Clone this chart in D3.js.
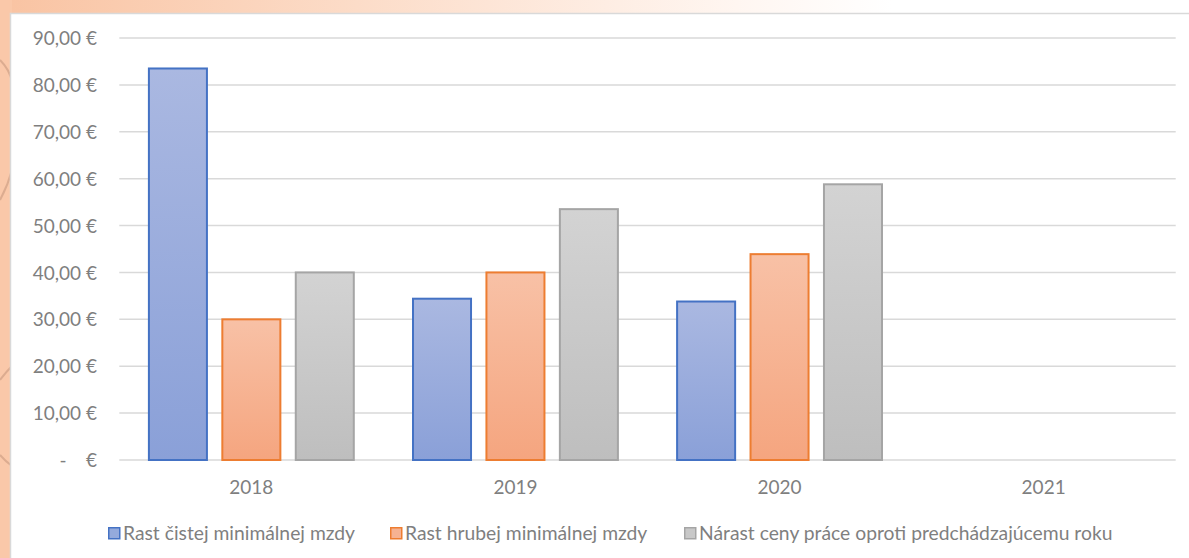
<!DOCTYPE html>
<html>
<head>
<meta charset="utf-8">
<script src="https://cdn.jsdelivr.net/npm/d3@7/dist/d3.min.js"></script>
<style>
  html, body { margin: 0; padding: 0; background: #fff; }
  svg { display: block; font-family: Lato, "Open Sans", sans-serif; }
</style>
</head>
<body>
<svg id="chart" width="1189" height="558"></svg>
<script>
// Categories and series (EUR)
const years = ["2018", "2019", "2020", "2021"];
const seriesNames = [
  "Rast čistej minimálnej mzdy",
  "Rast hrubej minimálnej mzdy",
  "Nárast ceny práce oproti predchádzajúcemu roku"
];
const netGrowth   = [83.5, 34.4, 33.8, null];
const grossGrowth = [30.0, 40.0, 43.9, null];
const laborCost   = [40.0, 53.5, 58.8, null];
const yTicks = [0, 10, 20, 30, 40, 50, 60, 70, 80, 90];

const seriesValues = [netGrowth, grossGrowth, laborCost];
const palette = [
  { stroke: "#4472C4", top: "#AAB8E1", bottom: "#8AA0D8", key: "#94AADC" },
  { stroke: "#ED7D31", top: "#F8C1A6", bottom: "#F5A57F", key: "#F6B292" },
  { stroke: "#A5A5A5", top: "#D3D3D3", bottom: "#BEBEBE", key: "#C8C8C8" }
];

const svg = d3.select("#chart");
const W = 1189, H = 558;
const defs = svg.append("defs");

// Decorative slide background behind the chart frame
const bgGrad = defs.append("linearGradient").attr("id", "bgTop")
  .attr("x1", 0).attr("x2", 1).attr("y1", 0).attr("y2", 0);
bgGrad.append("stop").attr("offset", 0).attr("stop-color", "#F9C3A2");
bgGrad.append("stop").attr("offset", 0.3).attr("stop-color", "#FCDCC8");
bgGrad.append("stop").attr("offset", 0.62).attr("stop-color", "#FFF6F1");
bgGrad.append("stop").attr("offset", 0.75).attr("stop-color", "#FFFFFF");
svg.append("rect").attr("width", W).attr("height", H).attr("fill", "url(#bgTop)");
svg.append("rect").attr("x", 0).attr("y", 0).attr("width", 12).attr("height", H).attr("fill", "#FAC8A9");

// faint ornamental strokes on the left margin
const orn = svg.append("g").attr("fill", "none").attr("stroke", "#B98A70").attr("stroke-opacity", 0.45).attr("stroke-width", 2);
orn.append("path").attr("d", "M0,60 Q10,70 12,82");
orn.append("path").attr("d", "M0,200 Q8,185 12,170");
orn.append("path").attr("d", "M0,380 Q6,372 12,366");
orn.append("path").attr("d", "M0,455 Q6,462 12,466");

// Chart frame
svg.append("rect").attr("x", 10.5).attr("y", 13.5).attr("width", W).attr("height", H)
  .attr("fill", "#FFFFFF").attr("stroke", "#D9D9D9").attr("stroke-width", 1.5);

// Scales
const x = d3.scaleBand().domain(years).range([119.3, 1175.7]).paddingInner(0).paddingOuter(0);
const groupPad = 28.6;
const xInner = d3.scaleBand().domain(d3.range(seriesNames.length))
  .range([groupPad, x.bandwidth() - groupPad]).paddingInner(13.4 / 73.4);
const y = d3.scaleLinear().domain([0, 90]).range([460, 38]);

const textColor = "#7F7F7F";

// Gridlines
svg.append("g").selectAll("line").data(yTicks).join("line")
  .attr("x1", x.range()[0]).attr("x2", x.range()[1])
  .attr("y1", d => y(d)).attr("y2", d => y(d))
  .attr("stroke", "#D9D9D9").attr("stroke-width", 1.5);

// Y axis labels (accounting style)
const fmt = d3.formatLocale({ decimal: ",", thousands: "\u00a0", grouping: [3], currency: ["", "\u00a0€"] }).format("$,.2f");
const yAxis = d3.axisLeft(y).tickValues(yTicks).tickSize(0).tickPadding(0)
  .tickFormat(d => d === 0 ? "-\u00a0\u00a0\u00a0\u00a0€" : fmt(d));
const gy = svg.append("g").attr("transform", "translate(97,0)").call(yAxis);
gy.select(".domain").remove();
gy.selectAll("text").attr("fill", textColor).attr("font-size", 19).attr("font-family", "Lato").attr("dy", "0.35em").attr("x", 0);

// X axis labels
const xAxis = d3.axisBottom(x).tickSize(0).tickPadding(0);
const gx = svg.append("g").attr("transform", "translate(0,460)").call(xAxis);
gx.select(".domain").remove();
gx.selectAll("text").attr("fill", textColor).attr("font-size", 19).attr("font-family", "Lato").attr("dy", 0).attr("y", 34);

// Bar fill gradients
palette.forEach((p, i) => {
  const g = defs.append("linearGradient").attr("id", "barGrad" + i)
    .attr("x1", 0).attr("x2", 0).attr("y1", 0).attr("y2", 1);
  g.append("stop").attr("offset", 0).attr("stop-color", p.top);
  g.append("stop").attr("offset", 1).attr("stop-color", p.bottom);
});

// Bars
const barData = [];
years.forEach((yr, yi) => {
  seriesValues.forEach((vals, si) => {
    if (vals[yi] != null) barData.push({ year: yr, s: si, v: vals[yi] });
  });
});
const sw = 2;
svg.append("g").selectAll("rect").data(barData).join("rect")
  .attr("x", d => x(d.year) + xInner(d.s) + sw / 2)
  .attr("width", xInner.bandwidth() - sw)
  .attr("y", d => y(d.v))
  .attr("height", d => y(0) - y(d.v))
  .attr("fill", d => `url(#barGrad${d.s})`)
  .attr("stroke", d => palette[d.s].stroke)
  .attr("stroke-width", sw);

// Legend
const legendX = [108, 390, 684];
const lg = svg.append("g");
seriesNames.forEach((name, i) => {
  lg.append("rect").attr("x", legendX[i] + 0.75).attr("y", 527.75).attr("width", 11).attr("height", 11)
    .attr("fill", palette[i].key).attr("stroke", palette[i].stroke).attr("stroke-width", 1.5);
  lg.append("text").attr("x", legendX[i] + 15).attr("y", 540)
    .attr("fill", textColor).attr("font-size", 19.3).attr("font-family", "Lato").text(name);
});
</script>
</body>
</html>
